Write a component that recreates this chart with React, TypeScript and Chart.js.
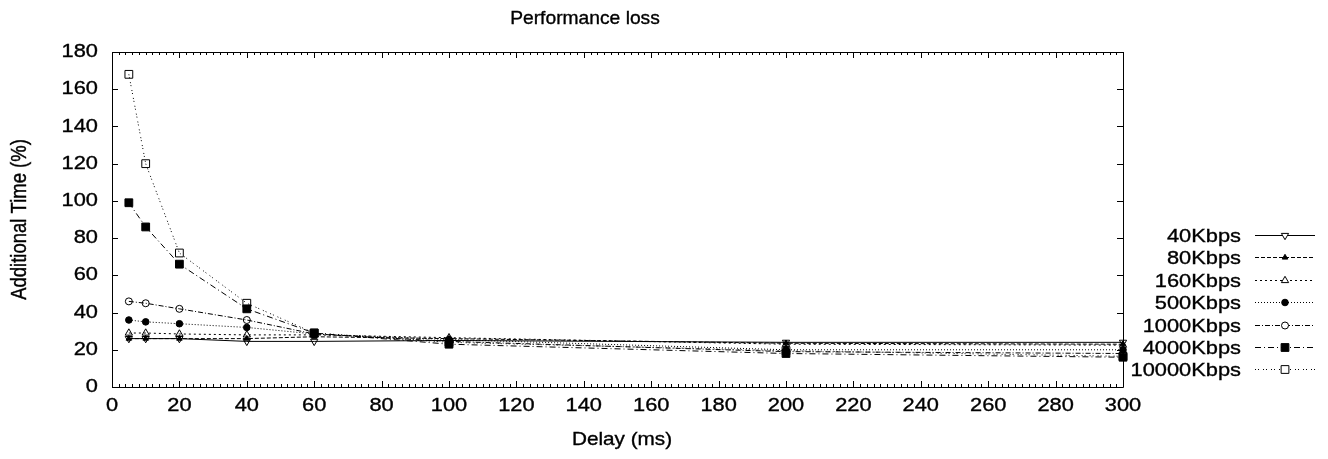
import React, { useEffect, useRef } from "react";
import { Chart, registerables } from "chart.js";
import { drawPoint } from "chart.js/helpers";

Chart.register(...registerables);

// Delay values (ms) on the x axis
const delays = [5, 10, 20, 40, 60, 100, 200, 300];

// Additional time (%) for each link speed
const kbps40 = [26, 26, 26, 24.5, 24.5, 25, 24, 24];
const kbps80 = [26, 26, 26, 26, 27, 26, 23.5, 23];
const kbps160 = [29, 29, 28.5, 28, 28, 26.5, 23, 22.5];
const kbps500 = [36, 35, 34, 32, 28.5, 25.5, 20, 20];
const kbps1000 = [46, 45, 42, 36, 28.5, 24.5, 19, 18];
const kbps4000 = [99, 86, 66, 42, 29, 23, 18, 16];
const kbps10000 = [168, 120, 72, 45, 29, 24, 19.5, 16.5];

const seriesLabels = ["40Kbps", "80Kbps", "160Kbps", "500Kbps", "1000Kbps", "4000Kbps", "10000Kbps"];
const seriesValues = [kbps40, kbps80, kbps160, kbps500, kbps1000, kbps4000, kbps10000];

const xTicksMajor = 20;
const xTicksMinor = 2;
const yTicksMajor = 20;

const chartTitle = "Performance loss";
const xTitle = "Delay (ms)";
const yTitle = "Additional Time (%)";

const FONT = "'Liberation Sans', Arial, Helvetica, sans-serif";
const SIZE = 18.5;
// the lettering is set slightly wide
const WIDE = 1.18;

type Style = {
  dash: number[];
  pointStyle: string;
  rotation: number;
  radius: number;
  filled: boolean;
};

const styles: Style[] = [
  { dash: [], pointStyle: "triangle", rotation: 180, radius: 4.2, filled: false },
  { dash: [4, 2], pointStyle: "triangle", rotation: 0, radius: 3.2, filled: true },
  { dash: [2, 3], pointStyle: "triangle", rotation: 0, radius: 4.2, filled: false },
  { dash: [1, 2], pointStyle: "circle", rotation: 0, radius: 3.3, filled: true },
  { dash: [5, 2, 1, 2], pointStyle: "circle", rotation: 0, radius: 3.5, filled: false },
  { dash: [6, 3, 1, 3], pointStyle: "rect", rotation: 0, radius: 5.5, filled: true },
  { dash: [1, 2, 1, 4], pointStyle: "rect", rotation: 0, radius: 5.5, filled: false },
];

function paintText(ctx: CanvasRenderingContext2D, text: string) {
  ctx.fillText(text, 0, 0);
  ctx.lineWidth = 0.35;
  ctx.strokeText(text, 0, 0);
}

function wideText(ctx: CanvasRenderingContext2D, text: string, x: number, y: number, align: CanvasTextAlign, size: number, sx = WIDE) {
  ctx.save();
  ctx.font = `${size}px ${FONT}`;
  ctx.fillStyle = "#000";
  ctx.strokeStyle = "#000";
  ctx.setLineDash([]);
  ctx.textAlign = align;
  ctx.textBaseline = "middle";
  ctx.translate(x, y);
  ctx.scale(sx, 1);
  paintText(ctx, text);
  ctx.restore();
}

// Box border, inward mirrored ticks, tick labels, titles and the gnuplot-style key
const framePlugin = {
  id: "frame",
  afterDraw(chart: any) {
    const { ctx, chartArea } = chart;
    const { left, right, top, bottom } = chartArea;
    const xs = chart.scales.x;
    const ys = chart.scales.y;
    ctx.save();
    ctx.strokeStyle = "#000";
    ctx.lineWidth = 1;
    ctx.setLineDash([]);
    ctx.beginPath();
    ctx.rect(Math.round(left) + 0.5, Math.round(top) + 0.5, Math.round(right - left), Math.round(bottom - top));
    ctx.stroke();

    ctx.beginPath();
    for (let v = xs.min; v <= xs.max + 1e-6; v += xTicksMinor) {
      const px = Math.round(xs.getPixelForValue(v)) + 0.5;
      const len = Math.abs(v % xTicksMajor) < 1e-6 ? 6 : 3;
      ctx.moveTo(px, bottom);
      ctx.lineTo(px, bottom - len);
      ctx.moveTo(px, top);
      ctx.lineTo(px, top + len);
    }
    for (let v = ys.min; v <= ys.max + 1e-6; v += yTicksMajor) {
      const py = Math.round(ys.getPixelForValue(v)) + 0.5;
      ctx.moveTo(left, py);
      ctx.lineTo(left + 6, py);
      ctx.moveTo(right, py);
      ctx.lineTo(right - 6, py);
    }
    ctx.stroke();

    // tick labels from the scales' own ticks
    xs.ticks.forEach((t: any) => {
      wideText(ctx, String(t.value), xs.getPixelForValue(t.value), 406, "center", SIZE);
    });
    ys.ticks.forEach((t: any) => {
      wideText(ctx, String(t.value), 98, ys.getPixelForValue(t.value), "right", SIZE);
    });

    // titles
    wideText(ctx, chartTitle, 585, 19, "center", SIZE, 1.04);
    wideText(ctx, xTitle, 622, 440, "center", SIZE, 1.12);
    ctx.save();
    ctx.font = `${SIZE}px ${FONT}`;
    ctx.fillStyle = "#000";
    ctx.strokeStyle = "#000";
    ctx.textAlign = "center";
    ctx.textBaseline = "middle";
    ctx.translate(20, (top + bottom) / 2);
    ctx.scale(WIDE, 1);
    ctx.rotate(-Math.PI / 2);
    paintText(ctx, yTitle);
    ctx.restore();

    // key
    const x0 = 1255;
    const x1 = 1315;
    const xm = 1285;
    chart.data.datasets.forEach((ds: any, i: number) => {
      const y = Math.round(235 + i * 22.4) + 0.5;
      const st = styles[i];
      wideText(ctx, ds.label, 1241, y + 1, "right", SIZE);
      ctx.strokeStyle = "#000";
      ctx.lineWidth = 1;
      ctx.setLineDash(st.dash);
      ctx.beginPath();
      ctx.moveTo(x0, y);
      ctx.lineTo(x1, y);
      ctx.stroke();
      ctx.setLineDash([]);
      ctx.fillStyle = st.filled ? "#000" : "#fff";
      drawPoint(ctx, { pointStyle: st.pointStyle as any, rotation: st.rotation, radius: st.radius, borderWidth: 1 }, xm, y);
    });
    ctx.restore();
  },
};

export default function App() {
  const canvasRef = useRef<HTMLCanvasElement | null>(null);

  useEffect(() => {
    const canvas = canvasRef.current;
    if (!canvas) return;
    const datasets = seriesLabels.map((label, i) => {
      const st = styles[i];
      return {
        label,
        data: delays.map((d, j) => ({ x: d, y: seriesValues[i][j] })),
        borderColor: "#000",
        borderWidth: 1,
        borderDash: st.dash,
        backgroundColor: st.filled ? "#000" : "rgba(0,0,0,0)",
        pointBorderColor: "#000",
        pointBackgroundColor: st.filled ? "#000" : "rgba(0,0,0,0)",
        pointStyle: st.pointStyle,
        pointRotation: st.rotation,
        pointRadius: st.radius,
        pointBorderWidth: 1,
        tension: 0,
        fill: false,
        clip: false as any,
      };
    });

    const chart = new Chart(canvas, {
      type: "line",
      data: { datasets: datasets as any },
      options: {
        animation: false,
        responsive: false,
        devicePixelRatio: 1,
        layout: { padding: { top: 52, right: 205, left: 0, bottom: 0 } },
        plugins: {
          legend: { display: false },
          title: { display: false },
          tooltip: { enabled: false },
        },
        scales: {
          x: {
            type: "linear",
            min: 0,
            max: 300,
            border: { display: false },
            grid: { display: false, drawTicks: false },
            ticks: { stepSize: xTicksMajor, display: false },
            afterFit: (s: any) => {
              s.height = 72;
            },
          },
          y: {
            type: "linear",
            min: 0,
            max: 180,
            border: { display: false },
            grid: { display: false, drawTicks: false },
            ticks: { stepSize: yTicksMajor, display: false },
            afterFit: (s: any) => {
              s.width = 112;
            },
          },
        },
      },
      plugins: [framePlugin],
    });
    return () => chart.destroy();
  }, []);

  return (
    <div style={{ position: "fixed", left: 0, top: 0, width: 1328, height: 459, background: "#fff" }}>
      <canvas ref={canvasRef} width={1328} height={459} style={{ width: 1328, height: 459 }} />
    </div>
  );
}
